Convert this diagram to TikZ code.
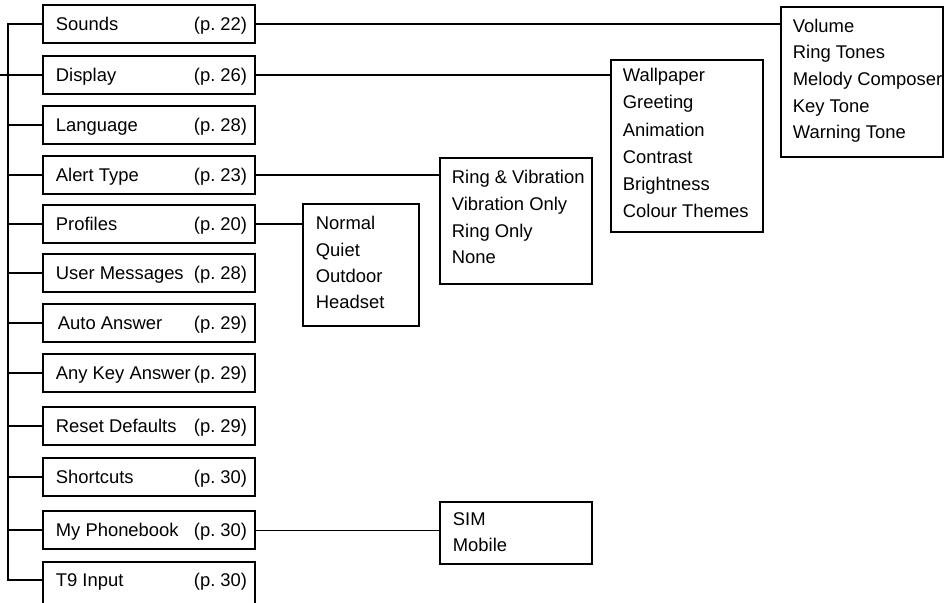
\documentclass[tikz,border=0pt]{standalone}
\usepackage{fontspec}
\setmainfont{Liberation Sans}
\begin{document}
\frenchspacing
\begin{tikzpicture}[x=1pt,y=-1pt,line width=1.8pt,
  menubox/.style={draw, inner sep=0pt, minimum width=212pt, minimum height=38pt},
  listbox/.style={draw, inner sep=0pt},
  item/.style={inner sep=0pt, anchor=west, text height=13.2pt, text depth=0pt, font=\fontsize{18.4}{22}\selectfont},
  thinlink/.style={line width=1pt}]
\clip (0,0) rectangle (944,602);
% main menu boxes
\foreach \k/\n/\p/\y/\tx in {snd/Sounds/22/24/55, disp/Display/26/75/55, lang/Language/28/125/55,
  alert/Alert Type/23/175/55, prof/Profiles/20/224/55, msg/User Messages/28/273/55,
  auto/Auto Answer/29/323/57, anykey/Any Key Answer/29/373/55, reset/Reset Defaults/29/426/55,
  short/Shortcuts/30/477/55, phone/My Phonebook/30/530/55}
{
  \node[menubox] (\k) at (149,\y) {};
  \node[item] (\k-n) at (\tx,\y) {\n};
  \node[item] (\k-p) at (193,\y) {(p. \p)};
}
\node[menubox, minimum height=58pt] (t9) at (149,591) {};
\node[item] (t9-n) at (55,580) {T9 Input};
\node[item] (t9-p) at (193,580) {(p. 30)};
% spine
\coordinate (sp) at (8,300);
\coordinate (edge) at (0,75);
\draw (snd.west) -| (sp) |- (t9.west |- t9-n.west);
\draw (edge) -- (disp.west);
\foreach \k in {lang,alert,prof,msg,auto,anykey,reset,short,phone}
  \draw (\k.west) -- (\k.west -| sp);
% sub-menu boxes
\node[listbox, minimum width=162pt, minimum height=150pt] (vol) at (862,82) {};
\node[listbox, minimum width=152pt, minimum height=172pt] (wall) at (687,146) {};
\node[listbox, minimum width=152pt, minimum height=126pt] (ring) at (516,221) {};
\node[listbox, minimum width=116pt, minimum height=122pt] (norm) at (361,265) {};
\node[listbox, minimum width=152pt, minimum height=62pt] (sim) at (516,533) {};
\foreach \t [count=\i from 0] in {Volume,Ring Tones,Melody Composer,Key Tone,Warning Tone}
  \node[item] (vol-\i) at (792,25.5+26.7*\i) {\t};
\foreach \t [count=\i from 0] in {Wallpaper,Greeting,Animation,Contrast,Brightness,Colour Themes}
  \node[item] (wall-\i) at (622,75+27.2*\i) {\t};
\foreach \t [count=\i from 0] in {Ring \& Vibration,Vibration Only,Ring Only,None}
  \node[item] (ring-\i) at (451,177+26.7*\i) {\t};
\foreach \t [count=\i from 0] in {Normal,Quiet,Outdoor,Headset}
  \node[item] (norm-\i) at (315,223+26.4*\i) {\t};
\foreach \t [count=\i from 0] in {SIM,Mobile}
  \node[item] (sim-\i) at (452,519+26*\i) {\t};
% connectors
\draw (snd.east) -- (snd.east -| vol.west);
\draw (disp.east) -- (disp.east -| wall.west);
\draw (alert.east) -- (alert.east -| ring.west);
\draw (prof.east) -- (prof.east -| norm.west);
\draw[thinlink] (phone.east) -- (phone.east -| sim.west);
\end{tikzpicture}
\end{document}
